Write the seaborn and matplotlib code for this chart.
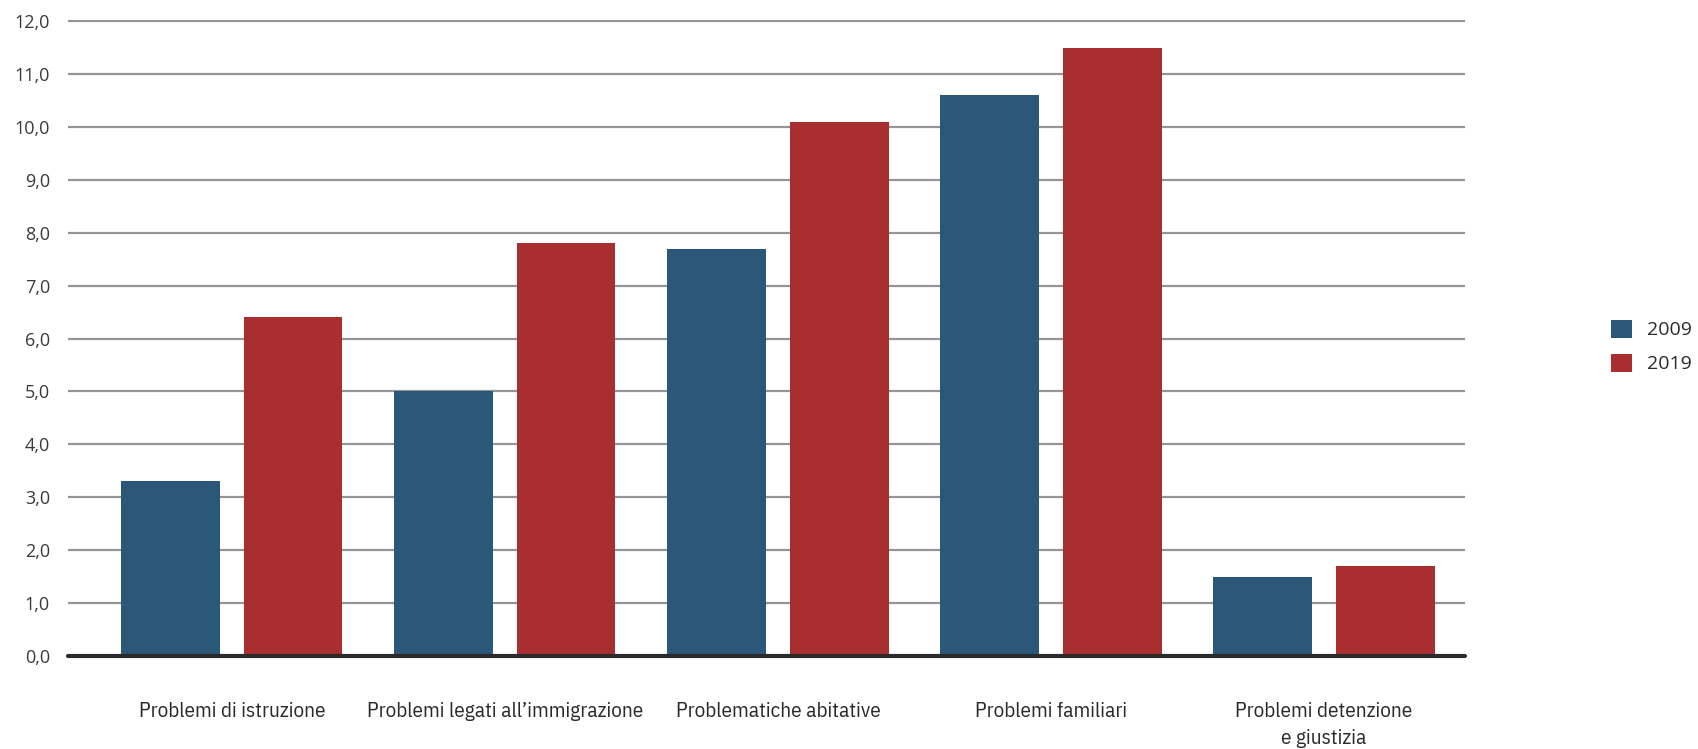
import matplotlib
matplotlib.use("Agg")
import matplotlib.pyplot as plt
import seaborn as sns
import pandas as pd
from matplotlib.ticker import FuncFormatter, FixedLocator

# Dati
categorie = [
    "Problemi di istruzione",
    "Problemi legati all’immigrazione",
    "Problematiche abitative",
    "Problemi familiari",
    "Problemi detenzione\ne giustizia",
]
anni = ["2009", "2019"]
valori_2009 = [3.3, 5.0, 7.7, 10.6, 1.5]
valori_2019 = [6.4, 7.8, 10.1, 11.5, 1.7]
tick_y = [0, 1, 2, 3, 4, 5, 6, 7, 8, 9, 10, 11, 12]

colori = ["#2B5778", "#A82E2F"]

df = pd.DataFrame({
    "categoria": categorie * 2,
    "anno": [anni[0]] * len(categorie) + [anni[1]] * len(categorie),
    "valore": valori_2009 + valori_2019,
})

sns.set_theme(style="white")
plt.rcParams["font.family"] = ["Open Sans", "DejaVu Sans"]

fig = plt.figure(figsize=(16.98, 7.49), dpi=100)
ax = fig.add_axes([0.04005, 0.12417, 0.8227, 0.8491])

sns.barplot(
    data=df, x="categoria", y="valore", hue="anno", palette=colori,
    width=0.9, gap=0.20, saturation=1, edgecolor="none", ax=ax, legend=True,
)

ax.set_xlim(-0.60, 4.516)
ax.set_ylim(0, 12.02)
ax.yaxis.set_major_locator(FixedLocator(tick_y))
ax.yaxis.set_major_formatter(FuncFormatter(lambda v, _: f"{v:.1f}".replace(".", ",")))
ax.yaxis.grid(True, color="#959595", linewidth=1.6)
ax.set_axisbelow(True)
ax.axhline(0, color="#2a2a2a", linewidth=3, zorder=5, clip_on=False)

for s in ax.spines.values():
    s.set_visible(False)

ax.set_xlabel("")
ax.set_ylabel("")
ax.tick_params(axis="y", length=0, pad=13, labelsize=13, labelcolor="#3a3a3a")
ax.tick_params(axis="x", length=0, pad=33, labelsize=15.2, labelcolor="#2a2a2a")
for lbl in ax.get_xticklabels():
    lbl.set_family("IBM Plex Sans Condensed")
    lbl.set_stretch("condensed")
    lbl.set_weight("normal")
    lbl.set_linespacing(1.55)

handles, labels = ax.get_legend_handles_labels()
ax.legend(
    handles, labels, loc="center left", bbox_to_anchor=(1611 / 1698, 1 - 346.5 / 749),
    bbox_transform=fig.transFigure, frameon=False, fontsize=14,
    handlelength=1.1, handleheight=1.05, handletextpad=0.75,
    labelspacing=0.75, borderaxespad=0, borderpad=0, labelcolor="#2a2a2a",
)

fig.savefig("out.png", dpi=100)
